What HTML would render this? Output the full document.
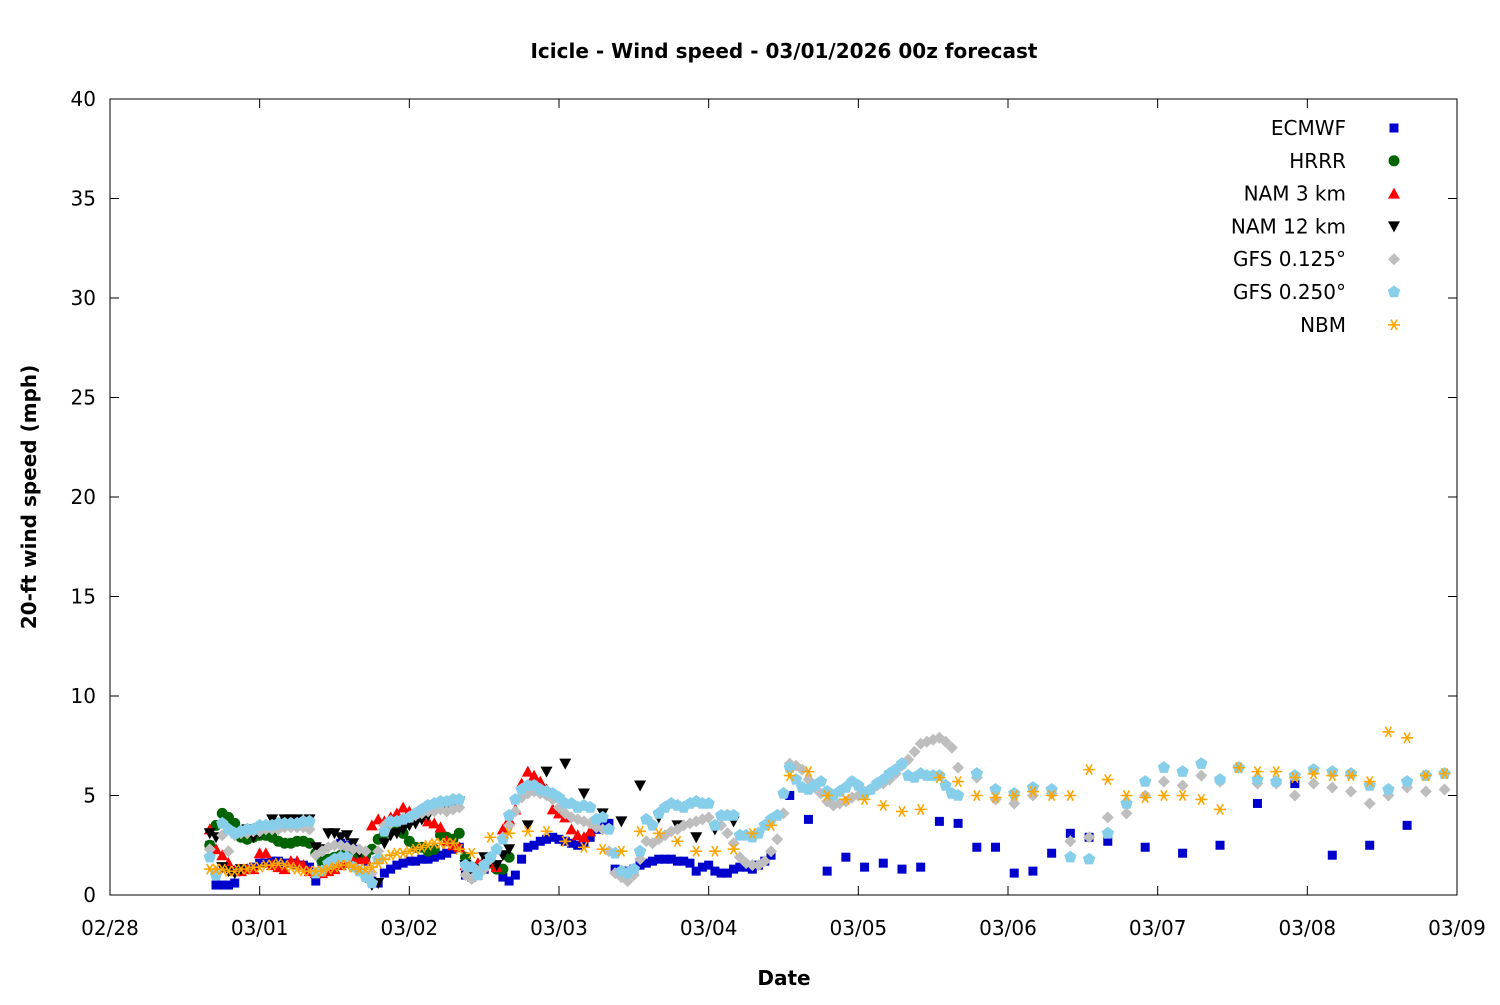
<!DOCTYPE html>
<html><head><meta charset="utf-8"><title>Icicle wind speed</title>
<style>body{margin:0;background:#fff}svg text{font-family:"DejaVu Sans","Liberation Sans",sans-serif}</style></head>
<body>
<svg id="chart" width="1500" height="1000" viewBox="0 0 1500 1000" xmlns="http://www.w3.org/2000/svg">
<rect width="1500" height="1000" fill="#fff"/>
<text x="784" y="58" text-anchor="middle" font-size="20" font-weight="bold">Icicle - Wind speed - 03/01/2026 00z forecast</text>
<text x="784" y="985" text-anchor="middle" font-size="20" font-weight="bold">Date</text>
<text transform="translate(36,497) rotate(-90)" text-anchor="middle" font-size="20" font-weight="bold">20-ft wind speed (mph)</text>
<g id="axes"></g><g id="marks"></g><g id="legend"></g>
<rect x="110" y="99" width="1347" height="796" fill="none" stroke="#000" stroke-width="1"/>
</svg>
<script>
const yTicks=[0,5,10,15,20,25,30,35,40];
const xTickLabels=["02/28","03/01","03/02","03/03","03/04","03/05","03/06","03/07","03/08","03/09"];
const seriesNames=["ECMWF","HRRR","NAM 3 km","NAM 12 km","GFS 0.125°","GFS 0.250°","NBM"];
// values in mph; hours since 02/28 00
const ecmwfHourlyStart=16;
const ecmwfHourly=[2.5,0.5,0.5,0.5,0.6,1.3,1.3,1.4,1.6,1.6,1.7,1.7,1.6,1.6,1.5,1.5,1.4,0.7,1.6,1.7,1.8,2.6,2.5,2.3,1.8,1.7,0.7,0.6,1.1,1.3,1.5,1.6,1.7,1.7,1.8,1.8,1.9,2.0,2.1,2.3,2.4,1.0,0.9,1.0,1.3,1.6,1.5,0.9,0.7,1.0,1.8,2.4,2.5,2.7,2.8,2.9,2.8,2.7,2.6,2.5,2.6,2.9,3.3,3.7,3.6,1.3,1.1,1.2,1.3,1.5,1.6,1.7,1.8,1.8,1.8,1.7,1.7,1.6,1.2,1.4,1.5,1.2,1.1,1.1,1.3,1.4,1.4,1.3,1.5,1.7,2.0];
const ecmwf3hStart=109;
const ecmwf3h=[5.0,3.8,1.2,1.9,1.4,1.6,1.3,1.4,3.7,3.6,2.4,2.4,1.1,1.2,2.1,3.1,2.9,2.7];
const ecmwf6hStart=166;
const ecmwf6h=[2.4,2.1,2.5,4.6,5.6,2.0,2.5,3.5];
const hrrrStart=16;
const hrrr=[2.5,3.5,4.1,3.9,3.6,2.9,2.8,2.9,3.0,3.0,2.9,2.7,2.6,2.6,2.7,2.7,2.6,2.1,1.7,1.8,1.9,2.0,2.0,1.9,1.9,2.0,2.3,2.8,3.1,3.2,3.3,3.1,2.7,2.4,2.4,2.2,2.3,3.0,2.9,2.8,3.1,1.9,1.4,1.3,1.5,1.6,1.3,1.3,1.9];
const nam3Start=16;
const nam3=[3.3,2.3,2.0,1.6,1.2,1.2,1.3,1.3,2.1,2.1,1.5,1.4,1.3,1.7,1.7,1.5,1.2,1.1,1.1,1.2,1.3,1.5,1.6,1.7,1.8,1.8,3.5,3.8,3.7,3.9,4.1,4.4,4.2,4.0,3.9,3.7,3.6,3.4,2.7,2.5,2.4,1.5,1.3,1.6,1.8,1.6,1.4,3.3,3.8,4.3,5.6,6.2,6.0,5.7,5.3,4.3,4.1,3.9,3.3,3.0,2.9,3.2];
const nam12HourlyStart=16;
const nam12Hourly=[3.1,2.9,1.4,1.2,1.1,1.3,3.3,2.9,3.1,3.4,3.8,3.6,3.8,3.8,3.8,3.7,3.8,2.4,2.3,3.1,3.1,2.9,3.0,2.6,2.1,0.9,0.5,0.6,2.6,3.0,3.1,3.3,3.5,3.6,3.8,4.0,4.2,4.3,4.5,4.6,4.7,1.5,1.2,1.3,1.9,1.7,1.5,2.0,2.3];
const nam12_3hStart=67;
const nam12_3h=[3.5,6.2,6.6,5.1,4.1,3.7,5.5,3.9,3.5,2.9,3.3,3.7];
const gfs125HourlyStart=16;
const gfs125Hourly=[2.3,1.2,3.0,2.2,3.0,3.1,3.1,3.2,3.2,3.3,3.3,3.3,3.4,3.4,3.4,3.4,3.3,2.0,2.2,2.4,2.5,2.5,2.4,2.3,2.3,2.2,1.1,2.2,3.5,3.6,3.7,3.8,3.9,4.0,4.1,4.2,4.2,4.3,4.2,4.3,4.4,1.0,0.8,1.2,1.3,1.8,2.3,2.9,3.5,4.2,4.9,5.1,5.2,5.1,5.0,4.8,4.4,4.1,3.9,3.8,3.7,3.6,3.4,3.3,2.2,1.1,0.9,0.7,1.0,1.8,2.7,2.6,2.8,3.0,3.2,3.3,3.5,3.6,3.7,3.8,3.9,3.5,3.5,3.1,2.6,1.9,1.6,1.5,1.5,1.7,2.2,2.8,4.1,6.6,6.5,6.3,5.8,5.4,5.1,4.7,4.5,4.6,4.7,4.9,5.0,5.2,5.3,5.5,5.6,5.8,6.1,6.5,6.8,7.2,7.6,7.7,7.8,7.9,7.7,7.4];
const gfs125_3hStart=136;
const gfs125_3h=[6.4,5.9,4.8,4.6,5.0,5.1,2.7,2.9,3.9,4.1,5.0,5.7,5.5,6.0,5.7,6.4,5.6,5.6,5.0,5.6,5.4,5.2,4.6,5.0,5.4,5.2,5.3];
const gfs250HourlyStart=16;
const gfs250Hourly=[1.9,1.0,3.6,3.3,3.1,3.2,3.3,3.3,3.5,3.5,3.5,3.6,3.6,3.6,3.6,3.7,3.7,1.1,1.2,1.6,1.8,1.9,1.9,1.4,1.2,0.9,0.6,1.8,3.2,3.7,3.7,3.8,3.9,4.1,4.3,4.5,4.6,4.7,4.7,4.8,4.8,1.5,1.4,1.0,1.5,1.9,2.3,2.8,4.0,4.8,5.3,5.5,5.5,5.3,5.2,5.1,4.9,4.6,4.6,4.4,4.5,4.4,3.8,3.9,3.3,2.1,1.2,1.1,1.3,2.2,3.8,3.5,4.1,4.4,4.6,4.5,4.4,4.6,4.7,4.6,4.6,3.5,4.0,4.0,4.0,3.0,3.0,2.9,3.1,3.5,3.8,4.0,5.1,6.4,5.8,5.4,5.3,5.5,5.7,5.2,5.0,5.2,5.4,5.7,5.5,5.1,5.3,5.6,5.8,6.1,6.3,6.6,6.0,5.9,6.1,6.0,6.0,6.0,5.5,5.1];
const gfs250_3hStart=136;
const gfs250_3h=[5.0,6.1,5.3,5.1,5.4,5.3,1.9,1.8,3.1,4.6,5.7,6.4,6.2,6.6,5.8,6.4,5.8,5.7,6.0,6.3,6.2,6.1,5.5,5.3,5.7,6.0,6.1];
const nbmHourlyStart=16;
const nbmHourly=[1.3,1.3,1.3,1.2,1.2,1.3,1.3,1.4,1.4,1.5,1.5,1.6,1.5,1.4,1.3,1.2,1.2,1.2,1.2,1.3,1.4,1.5,1.5,1.4,1.3,1.3,1.4,1.6,1.8,2.0,2.1,2.1,2.2,2.3,2.4,2.5,2.6,2.6,2.6,2.6,2.3];
const nbm3hStart=58;
const nbm3h=[2.1,2.9,3.1,3.2,3.2,2.7,2.4,2.3,2.2,3.2,3.1,2.7,2.2,2.2,2.3,3.1,3.5,6.0,6.2,5.0,4.8,4.8,4.5,4.2,4.3,5.9,5.7,5.0,4.9,5.0,5.2,5.0,5.0,6.3,5.8,5.0,4.9,5.0,5.0,4.8,4.3,6.4,6.2,6.2,5.9,6.1,6.0,6.0,5.7,8.2,7.9,6.0,6.1];

const NS="http://www.w3.org/2000/svg";
const X0=110,X1=1457,Y0=895,Y1=99;
function xScale(h){return X0+(h/(9*24))*(X1-X0);}
function yScale(v){return Y0-(v/40)*(Y0-Y1);}
function mk(tag,attrs,parent){const e=document.createElementNS(NS,tag);for(const k in attrs)e.setAttribute(k,attrs[k]);parent.appendChild(e);return e;}
const axes=document.getElementById('axes');
yTicks.forEach(v=>{const y=yScale(v);
 const t=mk('path',{d:`M${X0},${y}h9M${X1},${y}h-9`,stroke:'#000'},axes);
 
 
 const l=mk('text',{x:96,y:y+7,'text-anchor':'end','font-size':20},axes);l.textContent=v;
 
 
});
xTickLabels.forEach((s,i)=>{const x=xScale(i*24);
 const t=mk('path',{d:`M${x},${Y0}v-9M${x},${Y1}v9`,stroke:'#000'},axes);
 
 
 const l=mk('text',{x:x,y:935,'text-anchor':'middle','font-size':20},axes);l.textContent=s;
 
 
});
function pentagon(cx,cy,r){let p=[];for(let i=0;i<5;i++){const a=-Math.PI/2+i*2*Math.PI/5;p.push((cx+r*Math.cos(a)).toFixed(1)+','+(cy+r*Math.sin(a)).toFixed(1));}return p.join(' ');}
function marker(kind,cx,cy,parent){
 let e;
 if(kind===0)e=mk('rect',{x:cx-4.5,y:cy-4.5,width:9,height:9,fill:'#0000cc'},parent);
 else if(kind===1)e=mk('circle',{cx:cx,cy:cy,r:5.5,fill:'#006400'},parent);
 else if(kind===2)e=mk('polygon',{points:`${cx},${cy-6} ${cx+6},${cy+5} ${cx-6},${cy+5}`,fill:'#ff0000'},parent);
 else if(kind===3)e=mk('polygon',{points:`${cx},${cy+6} ${cx+6},${cy-5} ${cx-6},${cy-5}`,fill:'#000'},parent);
 else if(kind===4)e=mk('polygon',{points:`${cx},${cy-6} ${cx+6},${cy} ${cx},${cy+6} ${cx-6},${cy}`,fill:'#bebebe'},parent);
 else if(kind===5)e=mk('polygon',{points:pentagon(cx,cy,6.5),fill:'#87ceeb'},parent);
 else {e=mk('path',{d:`M${cx-6},${cy}h12M${cx-3},${cy-5.2}l6,10.4M${cx+3},${cy-5.2}l-6,10.4`,stroke:'#ffa500','stroke-width':1.6,fill:'none'},parent);}
 return e;
}
const seriesData=[
 [[ecmwfHourlyStart,1,ecmwfHourly],[ecmwf3hStart,3,ecmwf3h],[ecmwf6hStart,6,ecmwf6h]],
 [[hrrrStart,1,hrrr]],
 [[nam3Start,1,nam3]],
 [[nam12HourlyStart,1,nam12Hourly],[nam12_3hStart,3,nam12_3h]],
 [[gfs125HourlyStart,1,gfs125Hourly],[gfs125_3hStart,3,gfs125_3h]],
 [[gfs250HourlyStart,1,gfs250Hourly],[gfs250_3hStart,3,gfs250_3h]],
 [[nbmHourlyStart,1,nbmHourly],[nbm3hStart,3,nbm3h]]
];
const marks=document.getElementById('marks');
const seriesKeys=['ecmwf','hrrr','nam-3km','nam-12km','gfs-0125','gfs-0250','nbm'];
seriesData.forEach((segs,k)=>{
 const g=mk('g',{},marks);
 
 
 segs.forEach(([start,step,vals])=>{vals.forEach((v,i)=>{
  const e=marker(k,xScale(start+i*step),yScale(v),g);
  
  
 });});
});
const legend=document.getElementById('legend');
seriesNames.forEach((n,k)=>{const y=128+k*32.8;
 const g=mk('g',{},legend);
 
 
 const t=mk('text',{x:1346,y:y+7,'text-anchor':'end','font-size':20},g);t.textContent=n;
 marker(k,1394,y,g);
});
</script>
</body></html>
